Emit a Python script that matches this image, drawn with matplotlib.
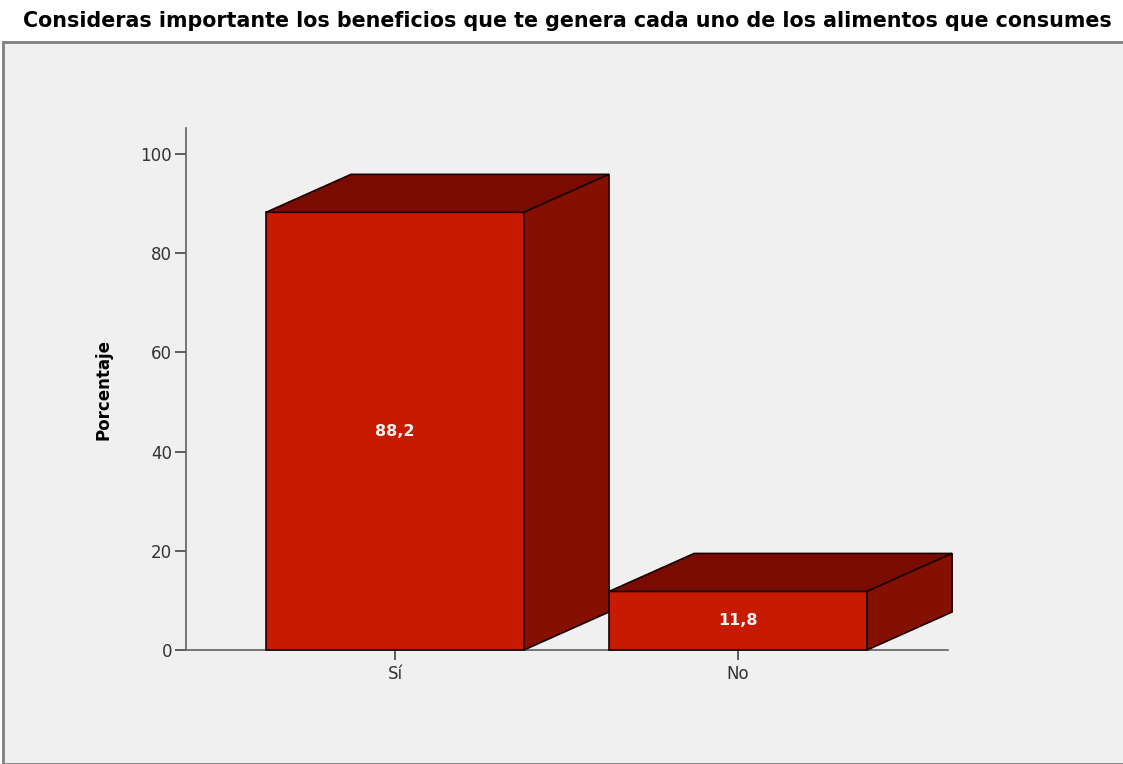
import matplotlib
matplotlib.use("Agg")
import matplotlib.pyplot as plt
from matplotlib.patches import Rectangle

categories = ["Sí", "No"]
values = [88.2, 11.8]
value_labels = ["88,2", "11,8"]
yticks = [0, 20, 40, 60, 80, 100]
title = "Consideras importante los beneficios que te genera cada uno de los alimentos que consumes"
ylabel = "Porcentaje"

W, H = 1123, 764
fig = plt.figure(figsize=(W / 100, H / 100), dpi=100)
fig.patch.set_facecolor("white")

# gray panel
panel = Rectangle((3 / W, 0), 1.2, (H - 42) / H, transform=fig.transFigure,
                  facecolor="#F0F0F0", edgecolor="#7F7F7F", linewidth=2.0, zorder=-10)
fig.patches.append(panel)

fig.text(567 / W, 1 - 21 / H, title, ha="center", va="center", fontsize=14.85,
         fontweight="bold", family="DejaVu Sans", color="black")

ax = fig.add_axes([186 / W, (H - 650) / H, 762 / W, 522 / H])
ax.set_facecolor("none")
ax.set_xlim(-0.609, 1.612)
ax.set_ylim(0, 105.2)

front = "#C81A00"
topc = "#7A0B00"
sidec = "#861000"
edge = "#1A0000"
bw = 0.752
ddx = 0.248
ddy = 7.66

xs = list(range(len(categories)))
ax.bar(xs, values, width=bw, color=front, edgecolor=edge, linewidth=1.2, zorder=3, clip_on=False)
for x, v in zip(xs, values):
    l, r = x - bw / 2, x + bw / 2
    ax.fill([l, r, r + ddx, l + ddx], [v, v, v + ddy, v + ddy], facecolor=topc,
            edgecolor=edge, linewidth=1.2, zorder=3, clip_on=False)
    ax.fill([r, r + ddx, r + ddx, r], [0, ddy, v + ddy, v], facecolor=sidec,
            edgecolor=edge, linewidth=1.2, zorder=3, clip_on=False)

for x, v, lab in zip(xs, values, value_labels):
    ax.text(x, v / 2, lab, ha="center", va="center", color="#F2F2F2",
            fontsize=11.5, fontweight="bold", family="DejaVu Sans", zorder=5)

for s in ["top", "right"]:
    ax.spines[s].set_visible(False)
for s in ["left", "bottom"]:
    ax.spines[s].set_color("#606060")
    ax.spines[s].set_linewidth(1.2)
ax.spines["bottom"].set_zorder(2)

ax.set_yticks(yticks)
ax.set_yticklabels([str(t) for t in yticks], family="DejaVu Sans", fontsize=12, color="#333333")
ax.set_xticks(xs)
ax.set_xticklabels(categories, family="DejaVu Sans", fontsize=12, color="#333333")
ax.tick_params(axis="y", length=8, width=1.3, color="#505050", pad=2)
ax.tick_params(axis="x", length=7, width=1.3, color="#505050", pad=4)

ax.set_ylabel(ylabel, fontsize=12, fontweight="bold", family="DejaVu Sans")
ax.yaxis.set_label_coords((112 - 186) / 762, (650 - 390) / 522)

fig.savefig("out.png", dpi=100)
